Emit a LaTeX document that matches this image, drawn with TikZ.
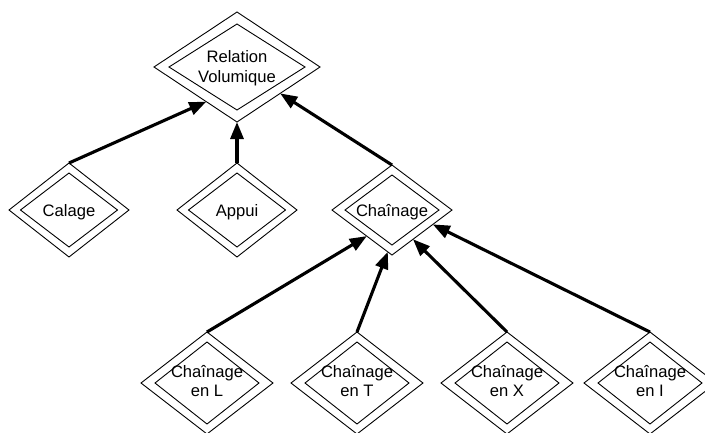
\documentclass[tikz,border=0pt]{standalone}
\usepackage{fontspec}
\setmainfont{Liberation Sans}
\usetikzlibrary{shapes.geometric,arrows.meta,calc}
\tikzset{
  dia/.style={diamond, draw, line width=0.9pt, inner sep=0pt, outer sep=0pt},
  txt/.style={align=center, inner sep=0pt, font=\fontsize{16.6}{19.8}\selectfont},
  txtone/.style={txt, text height=13pt, text depth=0pt},
  arr/.style={line width=3.1pt, -{Triangle[length=17pt,width=13pt]}}
}
\begin{document}
\begin{tikzpicture}[x=1pt,y=-1pt]
\useasboundingbox (0,0) rectangle (705,432);
% Relation Volumique
\node[dia, minimum width=166pt, minimum height=110pt] (rv) at (237,67) {};
\node[dia, minimum width=136pt, minimum height=86pt] (rvi) at (237,67) {};
\node[txt, yshift=-1.5pt] (rvt) at (237,67) {Relation\\Volumique};
% Calage
\node[dia, minimum width=120pt, minimum height=94pt] (ca) at (69,210) {};
\node[dia, minimum width=97pt, minimum height=74pt] (cai) at (69,210) {};
\node[txtone] (cat) at (69,210) {Calage};
% Appui
\node[dia, minimum width=120pt, minimum height=94pt] (ap) at (237,210) {};
\node[dia, minimum width=97pt, minimum height=74pt] (api) at (237,210) {};
\node[txtone] (apt) at (237,210) {Appui};
% Chainage
\node[dia, minimum width=120pt, minimum height=90pt] (ch) at (392,210) {};
\node[dia, minimum width=94pt, minimum height=70pt] (chi) at (392,210) {};
\node[txtone] (cht) at (392,210) {Chaînage};
% bottom row
\foreach \n/\x/\s in {cl/207/L, ct/357/T, cx/507/X, ci/650/I}{
  \node[dia, minimum width=132pt, minimum height=102pt] (\n) at (\x,383) {};
  \node[dia, minimum width=104pt, minimum height=82pt] (\n i) at (\x,383) {};
  \node[txt, yshift=2pt] (\n t) at (\x,383) {Chaînage\\en \s};
}
% connectors
\draw[arr] (ca.north) -- ($(rv.west)!0.63!(rv.south)$);
\draw[arr] (ap.north) -- (rv.south);
\draw[arr] (ch.north) -- ($(rv.south)!0.52!(rv.east)$);
\draw[arr] (cl.north) -- ($(ch.west)!0.58!(ch.south)$);
\draw[arr] (ct.north) -- ($(ch.west)!0.93!(ch.south)$);
\draw[arr] (cx.north) -- ($(ch.south)!0.35!(ch.east)$);
\draw[arr] (ci.north) -- ($(ch.south)!0.68!(ch.east)$);
\end{tikzpicture}
\end{document}
